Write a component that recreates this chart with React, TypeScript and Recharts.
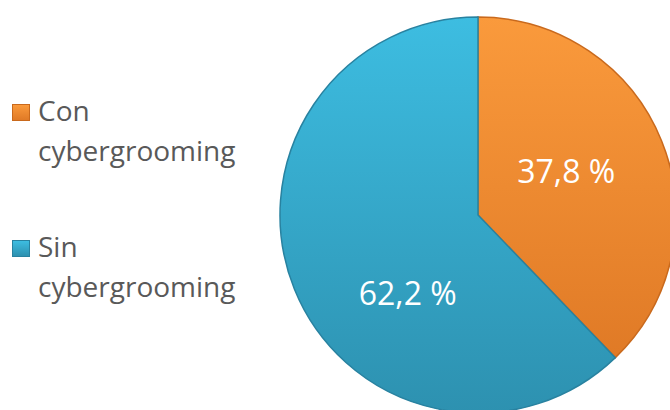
import { PieChart, Pie, Cell } from "recharts";

const CATEGORIES = ["Con cybergrooming", "Sin cybergrooming"];
const VALUES = [37.8, 62.2];
const LABELS = ["37,8 %", "62,2 %"];

// colores tipo Excel (arriba / abajo del degradado)
const TOP = ["#FA9A3C", "#3DBDE1"];
const BOTTOM = ["#E07A26", "#2D91B0"];
const EDGE = ["#C9691C", "#2882A0"];

// ajuste de la etiqueta: giro (grados) y radio relativo
const LABEL_SHIFT = [5, 26];
const LABEL_R = [0.5, 0.53];

const data = CATEGORIES.map((name, i) => ({ name, value: VALUES[i], label: LABELS[i] }));

const FONT = "'Open Sans', 'Noto Sans', sans-serif";
const RAD = Math.PI / 180;

function renderLabel(props: any) {
  const { cx, cy, outerRadius, midAngle, index } = props;
  const a = (midAngle + LABEL_SHIFT[index]) * RAD;
  const r = outerRadius * LABEL_R[index];
  const x = cx + r * Math.cos(a);
  const y = cy - r * Math.sin(a);
  return (
    <text
      x={x}
      y={y}
      fill="#FFFFFF"
      fontSize={32}
      fontFamily={FONT}
      textAnchor="middle"
      dominantBaseline="central"
    >
      {LABELS[index]}
    </text>
  );
}

function LegendBox() {
  return (
    <div
      style={{
        position: "absolute",
        left: 12,
        top: 90,
        fontFamily: FONT,
        fontSize: 28,
        color: "#595959",
      }}
    >
      {CATEGORIES.map((c, i) => {
        const [first, ...rest] = c.split(" ");
        return (
          <div key={c} style={{ marginBottom: i === 0 ? 56 : 0, lineHeight: "40px" }}>
            <div style={{ display: "flex", alignItems: "center" }}>
              <span
                style={{
                  display: "inline-block",
                  width: 18,
                  height: 17,
                  marginRight: 8,
                  marginTop: 4,
                  background: `linear-gradient(${TOP[i]}, ${BOTTOM[i]})`,
                  border: `1px solid ${EDGE[i]}`,
                  boxSizing: "border-box",
                }}
              />
              {first}
            </div>
            <div style={{ paddingLeft: 26 }}>{rest.join(" ")}</div>
          </div>
        );
      })}
    </div>
  );
}

export default function App() {
  return (
    <div style={{ position: "absolute", left: 0, top: 0, width: 670, height: 410, background: "#fff", overflow: "hidden" }}>
      <PieChart width={670} height={410} margin={{ top: 0, right: 0, bottom: 0, left: 0 }}>
        <defs>
          {TOP.map((t, i) => (
            <linearGradient key={i} id={`grad${i}`} x1="0" y1="0" x2="0" y2="1">
              <stop offset="0%" stopColor={t} />
              <stop offset="100%" stopColor={BOTTOM[i]} />
            </linearGradient>
          ))}
        </defs>
        <Pie
          data={data}
          dataKey="value"
          nameKey="name"
          cx={478}
          cy={215}
          outerRadius={198}
          startAngle={90}
          endAngle={-270}
          label={renderLabel}
          labelLine={false}
          isAnimationActive={false}
        >
          {data.map((d, i) => (
            <Cell key={d.name} fill={`url(#grad${i})`} stroke={EDGE[i]} strokeWidth={1.5} />
          ))}
        </Pie>
      </PieChart>
      <LegendBox />
    </div>
  );
}
